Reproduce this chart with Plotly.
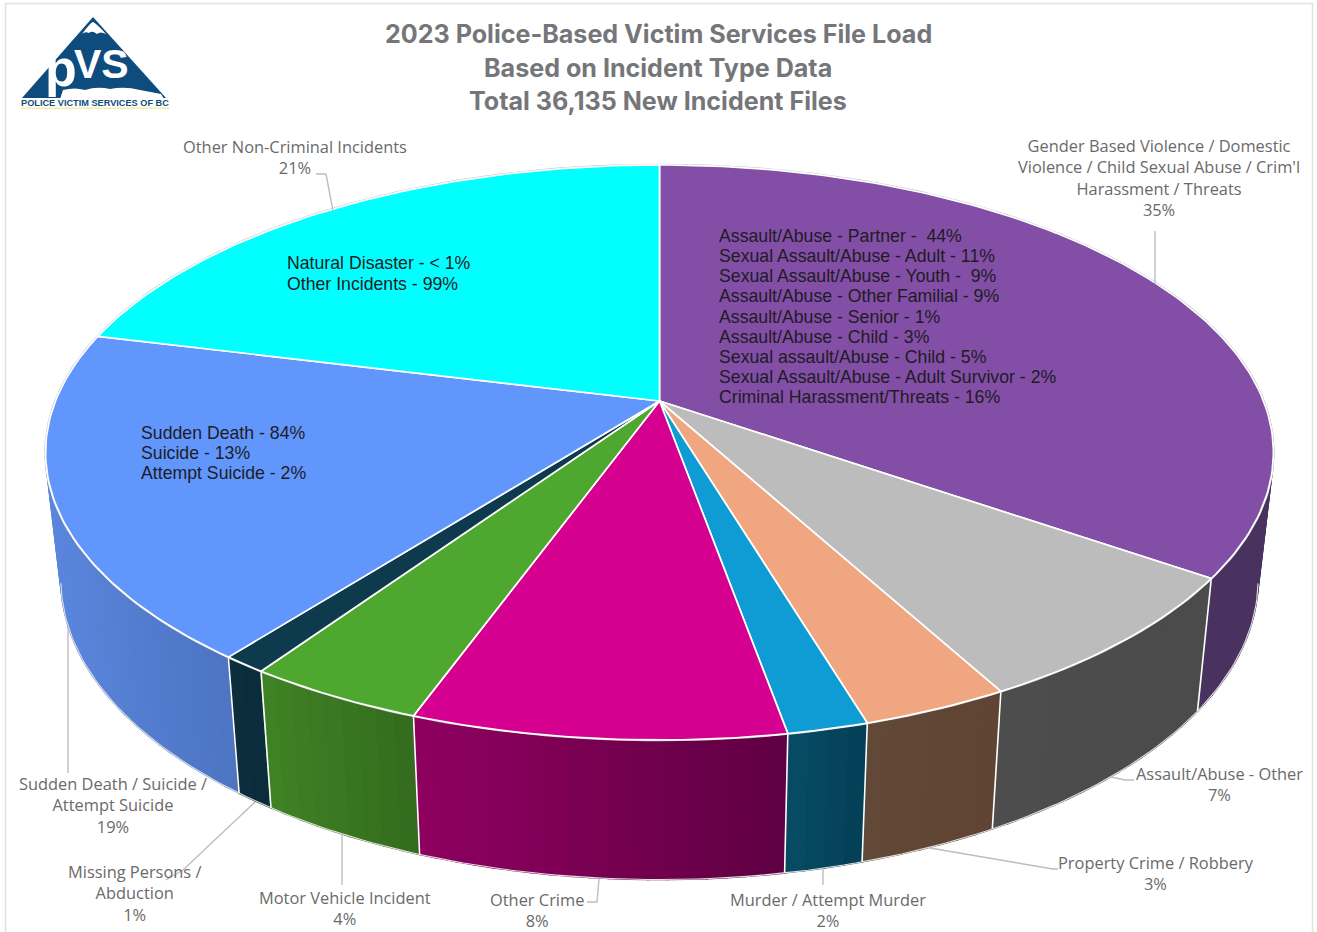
import math
import plotly.graph_objects as go

# ---------- data ----------
slice_names = ["Gender Based Violence", "Assault/Abuse - Other", "Property Crime / Robbery",
               "Murder / Attempt Murder", "Other Crime", "Motor Vehicle Incident",
               "Missing Persons / Abduction", "Sudden Death / Suicide / Attempt Suicide",
               "Other Non-Criminal Incidents"]
slice_values = [34.7, 7.4, 3.3, 1.8, 8.3, 4.0, 1.0, 18.4, 21.1]
top_colors = ["#824ea6", "#bcbcbc", "#f0a781", "#0f9bd3", "#d50090", "#4ea72e", "#0e3a4d", "#6196fd", "#00ffff"]
wall_left = ["#4a3260", "#4d4d4d", "#624836", "#084c66", "#8f005f", "#408225", "#0b2d3d", "#5a86dd", "#008f8f"]
wall_right = ["#4a3260", "#4b4b4b", "#5f4433", "#043f56", "#5f0043", "#336c1d", "#0a2b3a", "#4d74c2", "#008f8f"]

label_texts = ["Gender Based Violence / Domestic<br>Violence / Child Sexual Abuse / Crim'l<br>Harassment / Threats<br>35%",
               "Assault/Abuse - Other<br>7%", "Property Crime / Robbery<br>3%",
               "Murder / Attempt Murder<br>2%", "Other Crime<br>8%", "Motor Vehicle Incident<br>4%",
               "Missing Persons /<br>Abduction<br>1%", "Sudden Death / Suicide /<br>Attempt Suicide<br>19%",
               "Other Non-Criminal Incidents<br>21%"]
label_x = [1159, 1219, 1156, 828, 537, 345, 134, 113, 295]
label_y = [133, 761, 850, 887, 887, 885, 859, 771, 134]

partner_lines = ["Assault/Abuse - Partner -  44%", "Sexual Assault/Abuse - Adult - 11%",
                 "Sexual Assault/Abuse - Youth -  9%", "Assault/Abuse - Other Familial - 9%",
                 "Assault/Abuse - Senior - 1%", "Assault/Abuse - Child - 3%",
                 "Sexual assault/Abuse - Child - 5%", "Sexual Assault/Abuse - Adult Survivor - 2%",
                 "Criminal Harassment/Threats - 16%"]
death_lines = ["Sudden Death - 84%", "Suicide - 13%", "Attempt Suicide - 2%"]
other_lines = ["Natural Disaster - < 1%", "Other Incidents - 99%"]
title_lines = ["2023 Police-Based Victim Services File Load", "Based on Incident Type Data",
               "Total 36,135 New Incident Files"]

# ---------- tilted-disc projection ----------
CX, CY = 659.5, 401
A, B, Q = 604, 278.3, 0.179
BOTTOM_X, BOTTOM_SHIFT, BOTTOM_Y = 0.975, 125, 1.043


def rim(t):
    u, v = math.sin(t), -math.cos(t)
    d = 1 - Q * v
    return A * u / d, B * v / d


def top_pt(t):
    x, y = rim(t)
    return CX + x, CY + y


def bot_pt(t):
    x, y = rim(t)
    return CX + BOTTOM_X * x, CY + BOTTOM_SHIFT + BOTTOM_Y * y


def mix(c1, c2, f):
    a = [int(c1[i:i + 2], 16) for i in (1, 3, 5)]
    b = [int(c2[i:i + 2], 16) for i in (1, 3, 5)]
    return "rgb(%d,%d,%d)" % tuple(round(p + (q - p) * f) for p, q in zip(a, b))


total = sum(slice_values)
edges = [0.0]
for val in slice_values:
    edges.append(edges[-1] + val / total * 2 * math.pi)

fig = go.Figure()


def poly(xs, ys, fill=None, line="rgba(0,0,0,0)", width=0.0):
    fig.add_trace(go.Scatter(x=xs, y=ys, mode="lines", fill="toself" if fill else "none",
                             fillcolor=fill, line=dict(color=line, width=width),
                             hoverinfo="skip", showlegend=False))


ts = [i / 360 * 2 * math.pi for i in range(361)]
# walls, strip by strip, back to front
strips = []
for i in range(len(slice_values)):
    t0, t1 = edges[i], edges[i + 1]
    n = max(2, int((t1 - t0) / math.radians(1.5)))
    xs_all = [top_pt(t0 + (t1 - t0) * k / n)[0] for k in range(n + 1)]
    lo, hi = min(xs_all), max(xs_all)
    for k in range(n):
        a0 = t0 + (t1 - t0) * k / n
        a1 = t0 + (t1 - t0) * (k + 1) / n
        f = (0.5 * (xs_all[k] + xs_all[k + 1]) - lo) / ((hi - lo) or 1)
        strips.append((-math.cos((a0 + a1) / 2), a0, a1, i, f))
strips.sort(key=lambda s: s[0])
for vv, a0, a1, i, f in strips:
    if vv < -0.15:
        continue
    pts = [top_pt(a0), top_pt(a1), bot_pt(a1), bot_pt(a0)]
    col = mix(wall_left[i], wall_right[i], f)
    poly([p[0] for p in pts] + [pts[0][0]], [p[1] for p in pts] + [pts[0][1]], fill=col, line=col, width=1.6)

# thin outer edge of the walls
edge_ts = [t for t in ts if -math.cos(t) > 0.18]
poly([bot_pt(t)[0] for t in edge_ts], [bot_pt(t)[1] for t in edge_ts], line="#e0e0e0", width=1.1)
# wall separators
for e in edges[1:-1]:
    if -math.cos(e) > 0:
        p, q = top_pt(e), bot_pt(e)
        poly([p[0], q[0]], [p[1], q[1]], line="#ffffff", width=1.6)

# rim halo
poly([top_pt(t)[0] for t in ts], [top_pt(t)[1] for t in ts], line="#c6c6c6", width=2.6)

# top wedges
for i, col in enumerate(top_colors):
    t0, t1 = edges[i], edges[i + 1]
    n = max(4, int((t1 - t0) / math.radians(1)))
    arc = [top_pt(t0 + (t1 - t0) * k / n) for k in range(n + 1)]
    xs = [CX] + [p[0] for p in arc] + [CX]
    ys = [CY] + [p[1] for p in arc] + [CY]
    poly(xs, ys, fill=col, line="#ffffff", width=1.7)

# ---------- annotations ----------
ann = []
GREY = "#6a6a6a"
LABEL_FONT = "Open Sans"


def note(x, y, text, size, color, family, xanchor="center", yanchor="top", align="center"):
    ann.append(dict(x=x, y=y, text=text, xref="x", yref="y", showarrow=False, xanchor=xanchor,
                    yanchor=yanchor, align=align, borderpad=0,
                    font=dict(size=size, color=color, family=family)))


for j, line in enumerate(title_lines):
    note(658, 34 + j * 33.5, f"<b>{line}</b>", 25.1, "#75767a", "Inter", yanchor="middle")
for txt, x, y in zip(label_texts, label_x, label_y):
    note(x, y, txt, 16.4, GREY, LABEL_FONT)

BODY = "Liberation Sans"
for lines, x0, y0, step in [(partner_lines, 717.5, 236, 20.15), (death_lines, 139.5, 433, 20.2), (other_lines, 285.5, 263, 21)]:
    for j, line in enumerate(lines):
        note(x0, y0 + j * step, line.replace("  ", "\u00a0 "), 17.7, "#201c24", BODY, xanchor="left", yanchor="middle", align="left")

# ---------- leader lines ----------
leaders = [
    [(1155, 231), (1155, 283)],
    [(316, 174), (326, 174), (333, 211)],
    [(1111, 777), (1125, 780), (1134, 780)],
    [(930, 848), (1053, 869), (1058, 869)],
    [(823, 868), (823, 885)],
    [(599, 879), (597, 902), (587, 902)],
    [(342, 833), (342, 885)],
    [(255, 802), (183, 870), (166, 880)],
    [(68, 627), (68, 773)],
]
shapes = []
for pts in leaders:
    path = "M" + " L".join(f"{x},{y}" for x, y in pts)
    shapes.append(dict(type="path", path=path, xref="x", yref="y", line=dict(color="#bdbdc2", width=1.4)))

# frame
shapes.append(dict(type="path", path="M5.5,932 L5.5,3.5 L1312.5,3.5 L1312.5,932", xref="x", yref="y",
                   line=dict(color="#e2e2e2", width=1.6)))

# ---------- logo ----------
NAVY = "#0f4c7e"
logo_paths = [
    ("M93,17 L166,98 L22,98 Z", NAVY),
    ("M82,34 Q91,22 93,22 Q97,24 106,34 Q100,31 97,34 Q92,30 89,33 Q85,31 82,34 Z", "#ffffff"),
    ("M60,99 L63,90 Q75,87 85,90 Q97,86 110,89 Q125,86 140,90 L161,94 L164,99 Z", "#ffffff"),
    ("M21,107.5 L170,107.5 L170,109 L21,109 Z", "#f4efa6"),
]
for pth, col in logo_paths:
    shapes.append(dict(type="path", path=pth, xref="x", yref="y", fillcolor=col, line=dict(width=0)))
note(61, 68, "<b>p</b>", 52, "#ffffff", BODY, yanchor="middle")
note(101, 64, "<b>VS</b>", 41, "#ffffff", BODY, yanchor="middle")
note(95, 103, "<b>POLICE VICTIM SERVICES OF BC</b>", 9.2, NAVY, BODY, yanchor="middle")

fig.update_layout(
    width=1317, height=932, margin=dict(l=0, r=0, t=0, b=0),
    paper_bgcolor="#ffffff", plot_bgcolor="#ffffff", showlegend=False,
    xaxis=dict(range=[0, 1317], visible=False, fixedrange=True),
    yaxis=dict(range=[932, 0], visible=False, fixedrange=True),
    annotations=ann, shapes=shapes,
)
fig.write_html("out.html", config=dict(displayModeBar=False),
               post_script="document.body.style.margin='0';document.body.style.overflow='hidden';")
